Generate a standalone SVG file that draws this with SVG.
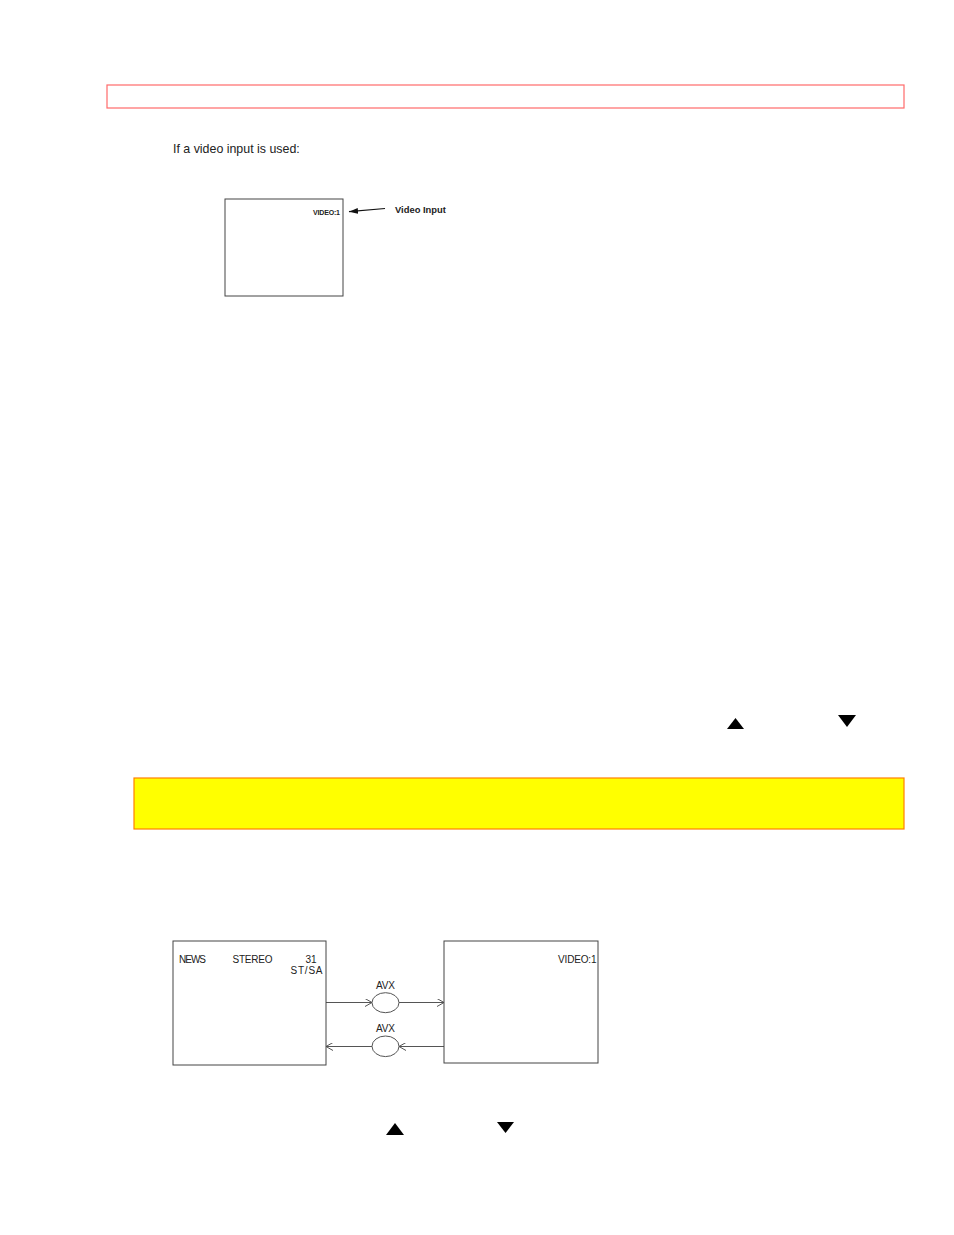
<svg xmlns="http://www.w3.org/2000/svg" width="954" height="1235" viewBox="0 0 954 1235">
<style>
.t{font-family:"Liberation Sans",Arial,sans-serif;fill:#222}
.box{fill:none;stroke:#444;stroke-width:1}
.ln{stroke:#555;stroke-width:1;fill:none}
.tri{fill:#000}
</style>
<defs>
<marker id="open" markerWidth="8" markerHeight="8" refX="7" refY="4" orient="auto" markerUnits="userSpaceOnUse">
<path d="M0,0 L7,4 L0,8" fill="none" stroke="#555" stroke-width="1"/>
</marker>
<marker id="solid" markerWidth="10" markerHeight="8" refX="9" refY="4" orient="auto" markerUnits="userSpaceOnUse">
<path d="M0,1 L9,4 L0,7 Z" fill="#111"/>
</marker>
</defs>
<rect width="954" height="1235" fill="#fff"/>
<g id="header-bar"><rect x="107" y="85" width="797" height="23" fill="none" stroke="#ff6a6a" stroke-width="1.2"/></g>
<text class="t" x="173" y="152.5" font-size="12.4" fill="#333">If a video input is used:</text>
<g id="screen1">
<rect class="box" x="225" y="199" width="118" height="97"/>
<text class="t" x="313" y="215" font-size="7" font-weight="bold" textLength="27">VIDEO:1</text>
</g>
<g id="label-video-input"><text class="t" x="395" y="213.3" font-size="9.4" font-weight="bold">Video Input</text></g>
<g id="connectors">
<line x1="385" y1="208.5" x2="349" y2="211.7" stroke="#111" stroke-width="1.2" marker-end="url(#solid)"/>
<line class="ln" x1="326" y1="1002.5" x2="372" y2="1002.5" marker-end="url(#open)"/>
<line class="ln" x1="399" y1="1002.5" x2="444" y2="1002.5" marker-end="url(#open)"/>
<line class="ln" x1="444" y1="1046.5" x2="399" y2="1046.5" marker-end="url(#open)"/>
<line class="ln" x1="372" y1="1046.5" x2="326" y2="1046.5" marker-end="url(#open)"/>
</g>
<g id="triangles1">
<polygon class="tri" points="727,729 744,729 735.5,718"/>
<polygon class="tri" points="838,715 856,715 847,727"/>
</g>
<g id="note-bar"><rect x="134" y="778" width="770" height="51" fill="#ffff00" stroke="#ff8000" stroke-width="1.2"/></g>
<g id="tv-left">
<rect class="box" x="173" y="941" width="153" height="124"/>
<text class="t" x="179" y="963" font-size="10" textLength="27">NEWS</text>
<text class="t" x="232.5" y="963" font-size="10" textLength="40">STEREO</text>
<text class="t" x="305.5" y="963" font-size="10">31</text>
<text class="t" x="290.5" y="974" font-size="10" textLength="32">ST/SA</text>
</g>
<g id="tv-right">
<rect class="box" x="444" y="941" width="154" height="122"/>
<text class="t" x="558" y="963" font-size="10" textLength="38.5">VIDEO:1</text>
</g>
<g id="avx-top">
<ellipse class="ln" cx="385.5" cy="1002.7" rx="13.5" ry="10"/>
<text class="t" x="385.5" y="988.5" font-size="10" text-anchor="middle" textLength="19">AVX</text>
</g>
<g id="avx-bottom">
<ellipse class="ln" cx="385.5" cy="1046.3" rx="13.5" ry="10.3"/>
<text class="t" x="385.5" y="1031.5" font-size="10" text-anchor="middle" textLength="19">AVX</text>
</g>
<g id="triangles2">
<polygon class="tri" points="386,1135 404,1135 395,1123"/>
<polygon class="tri" points="497,1122 514,1122 505.5,1133"/>
</g>
</svg>
